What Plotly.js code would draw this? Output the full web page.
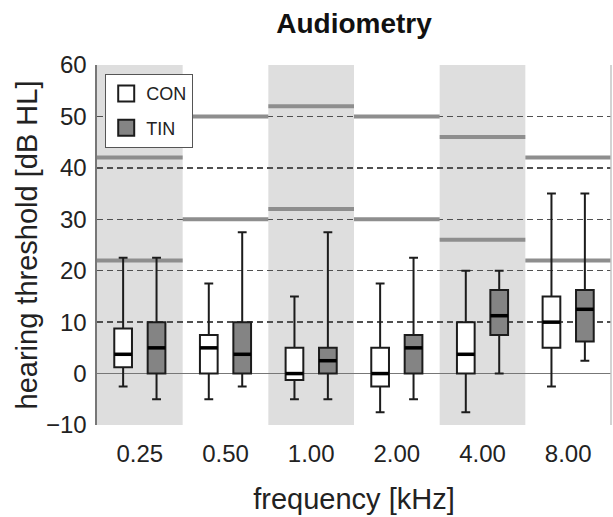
<!DOCTYPE html>
<html>
<head>
<meta charset="utf-8">
<script src="https://cdn.plot.ly/plotly-3.0.1.min.js"></script>
<style>html,body{margin:0;padding:0;background:#fff;}#chart{width:613px;height:517px;}</style>
</head>
<body>
<div id="chart"></div>
<script>
// ---- data ----
var freqs = ['0.25', '0.50', '1.00', '2.00', '4.00', '8.00'];

var conLower  = [-2.5, -5, -5, -7.5, -7.5, -2.5];
var conQ1     = [1.25, 0, -1.25, -2.5, 0, 5];
var conMedian = [3.75, 5, 0, 0, 3.75, 10];
var conQ3     = [8.75, 7.5, 5, 5, 10, 15];
var conUpper  = [22.5, 17.5, 15, 17.5, 20, 35];

var tinLower  = [-5, -2.5, -5, -5, 0, 2.5];
var tinQ1     = [0, 0, 0, 0, 7.5, 6.25];
var tinMedian = [5, 3.75, 2.5, 5, 11.25, 12.5];
var tinQ3     = [10, 10, 5, 7.5, 16.25, 16.25];
var tinUpper  = [22.5, 27.5, 27.5, 22.5, 20, 35];

var normUpper = [42, 50, 52, 50, 46, 42];
var normLower = [22, 30, 32, 30, 26, 22];

var shadedBands = [0, 2, 4];   // indices of shaded frequency columns

// ---- styling / layout constants ----
var FONT = 'Liberation Sans, Arial, sans-serif';
var BOXGAP = 0.22, BOXGROUPGAP = 0.47;
var groupFrac = 1 - BOXGAP;
var halfW = 0.5 * groupFrac * (1 - BOXGROUPGAP) / 2;
var offsets = [-0.25 * groupFrac, 0.25 * groupFrac];
var outline = '#1c1c1c';

function boxTrace(name, q1, med, q3, lo, hi, fill) {
  return {
    type: 'box', name: name, x: freqs,
    q1: q1, median: med, q3: q3, lowerfence: lo, upperfence: hi,
    boxpoints: false, fillcolor: fill,
    line: {color: outline, width: 2},
    whiskerwidth: 0.5, showlegend: false, hoverinfo: 'skip'
  };
}

var traces = [
  boxTrace('CON', conQ1, conMedian, conQ3, conLower, conUpper, '#ffffff'),
  boxTrace('TIN', tinQ1, tinMedian, tinQ3, tinLower, tinUpper, '#848484'),
  {type: 'scatter', mode: 'markers', x: [freqs[0]], y: [null], name: 'CON',
   legendgroup: 'a',
   marker: {symbol: 'square', size: 16, color: '#ffffff', line: {color: outline, width: 2}}},
  {type: 'scatter', mode: 'markers', x: [freqs[0]], y: [null], name: 'TIN',
   legendgroup: 'b',
   marker: {symbol: 'square', size: 16, color: '#848484', line: {color: outline, width: 2}}}
];

var shapes = [];
shadedBands.forEach(function (i) {
  shapes.push({type: 'rect', xref: 'x', yref: 'y', x0: i - 0.5, x1: i + 0.5, y0: -10, y1: 60,
    fillcolor: '#dedede', line: {width: 0}, layer: 'below'});
});
freqs.forEach(function (f, i) {
  [normUpper[i], normLower[i]].forEach(function (v) {
    shapes.push({type: 'line', xref: 'x', yref: 'y', x0: i - 0.5, x1: i + 0.5, y0: v, y1: v,
      line: {color: '#8e8e8e', width: 4}, layer: 'between'});
  });
});
[conMedian, tinMedian].forEach(function (arr, g) {
  arr.forEach(function (v, i) {
    var c = i + offsets[g];
    shapes.push({type: 'line', xref: 'x', yref: 'y', x0: c - halfW, x1: c + halfW, y0: v, y1: v,
      line: {color: '#000000', width: 3.5}, layer: 'above'});
  });
});
shapes.push({type: 'line', xref: 'paper', yref: 'paper', x0: 1, x1: 1, y0: 0, y1: 1,
  line: {color: '#c4c4c4', width: 1.5}});

var layout = {
  width: 613, height: 517,
  margin: {l: 97, r: 2, t: 65, b: 92},
  paper_bgcolor: '#ffffff', plot_bgcolor: '#ffffff',
  font: {family: FONT, color: '#1a1a1a'},
  title: {text: 'Audiometry', font: {family: FONT, size: 28, weight: 'bold', color: '#111'},
    xref: 'paper', x: 0.5, xanchor: 'center', yref: 'container', y: 0.955, yanchor: 'middle'},
  boxmode: 'group', boxgap: BOXGAP, boxgroupgap: BOXGROUPGAP,
  xaxis: {
    type: 'category', range: [-0.5, 5.5], showgrid: false, zeroline: false, showline: false,
    ticks: '', tickfont: {size: 24, color: '#222'}, ticklabelstandoff: 12,
    title: {text: 'frequency [kHz]', font: {size: 29, color: '#222'}, standoff: 22},
    fixedrange: true
  },
  yaxis: {
    range: [-10, 60], dtick: 10, tick0: 0,
    showgrid: true, gridcolor: '#505050', gridwidth: 1.5, griddash: '6px,4px',
    zeroline: true, zerolinecolor: '#777777', zerolinewidth: 1.6,
    showline: true, linecolor: '#777777', linewidth: 1.6,
    ticks: '', tickfont: {size: 24, color: '#222'}, ticklabelstandoff: 4,
    title: {text: 'hearing threshold [dB HL]', font: {size: 29, color: '#222'}, standoff: 0},
    fixedrange: true
  },
  legend: {
    x: 0.0156, y: 0.975, xanchor: 'left', yanchor: 'top',
    bgcolor: '#ffffff', bordercolor: '#555555', borderwidth: 1.2,
    font: {size: 18, color: '#222'}, traceorder: 'grouped', tracegroupgap: 8,
    itemwidth: 30
  },
  shapes: shapes
};

Plotly.newPlot('chart', traces, layout, {displayModeBar: false, staticPlot: true});
</script>
</body>
</html>
